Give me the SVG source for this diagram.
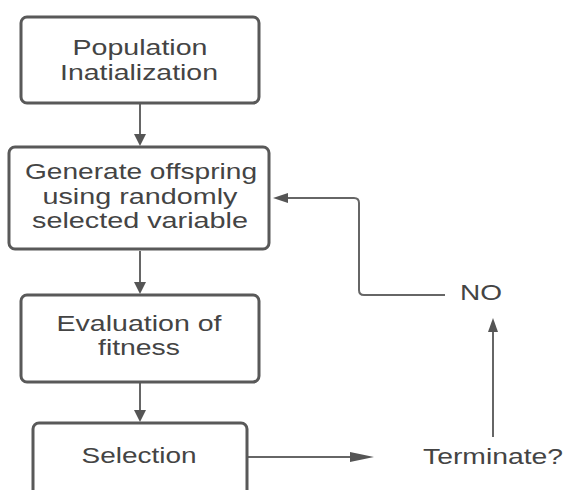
<svg xmlns="http://www.w3.org/2000/svg" width="566" height="490" viewBox="0 0 566 490">
<defs>
<style>
.box{fill:#fff;stroke:#595959;stroke-width:3}
.t{font-family:"Liberation Sans",Arial,sans-serif;font-size:22px;fill:#444;text-anchor:middle}
.c{fill:none;stroke:#666;stroke-width:2}
.h{fill:#555}
</style>
</defs>
<rect width="566" height="490" fill="#fff"/>
<g id="connectors">
<line class="c" x1="140" y1="104" x2="140" y2="136"/>
<path class="h" d="M134,134 L146,134 L140,146 z"/>
<line class="c" x1="140" y1="251" x2="140" y2="284"/>
<path class="h" d="M134,282 L146,282 L140,294 z"/>
<line class="c" x1="140" y1="383" x2="140" y2="412"/>
<path class="h" d="M134,410 L146,410 L140,422 z"/>
<line class="c" x1="248" y1="457" x2="362" y2="457"/>
<path class="h" d="M350,452 L374,457 L350,462 z"/>
<line class="c" x1="493" y1="437" x2="493" y2="328"/>
<path class="h" d="M488,332 L493,318 L498,332 z"/>
<path class="c" d="M445,295 L364,295 Q359,295 359,290 L359,203 Q359,198 354,198 L285,198"/>
<path class="h" d="M288,193 L273,198 L288,203 z"/>
</g>
<g id="n1">
<rect class="box" x="21" y="17" width="238" height="86" rx="6"/>
<text class="t" x="140" y="55" textLength="135" lengthAdjust="spacingAndGlyphs">Population</text>
<text class="t" x="139" y="80" textLength="158" lengthAdjust="spacingAndGlyphs">Inatialization</text>
</g>
<g id="n2">
<rect class="box" x="9" y="147" width="260" height="102" rx="6"/>
<text class="t" x="141" y="179" textLength="232" lengthAdjust="spacingAndGlyphs">Generate offspring</text>
<text class="t" x="140" y="204" textLength="195" lengthAdjust="spacingAndGlyphs">using randomly</text>
<text class="t" x="140" y="228" textLength="216" lengthAdjust="spacingAndGlyphs">selected variable</text>
</g>
<g id="n3">
<rect class="box" x="21" y="295" width="238" height="87" rx="6"/>
<text class="t" x="139" y="331" textLength="165" lengthAdjust="spacingAndGlyphs">Evaluation of</text>
<text class="t" x="139" y="355" textLength="82" lengthAdjust="spacingAndGlyphs">fitness</text>
</g>
<g id="n4">
<rect class="box" x="33" y="423" width="214" height="80" rx="6"/>
<text class="t" x="139" y="463" textLength="115" lengthAdjust="spacingAndGlyphs">Selection</text>
</g>
<g id="terminate">
<text class="t" x="493" y="464" textLength="140" lengthAdjust="spacingAndGlyphs">Terminate?</text>
</g>
<g id="no">
<text class="t" x="481" y="300" textLength="42" lengthAdjust="spacingAndGlyphs">NO</text>
</g>
</svg>
